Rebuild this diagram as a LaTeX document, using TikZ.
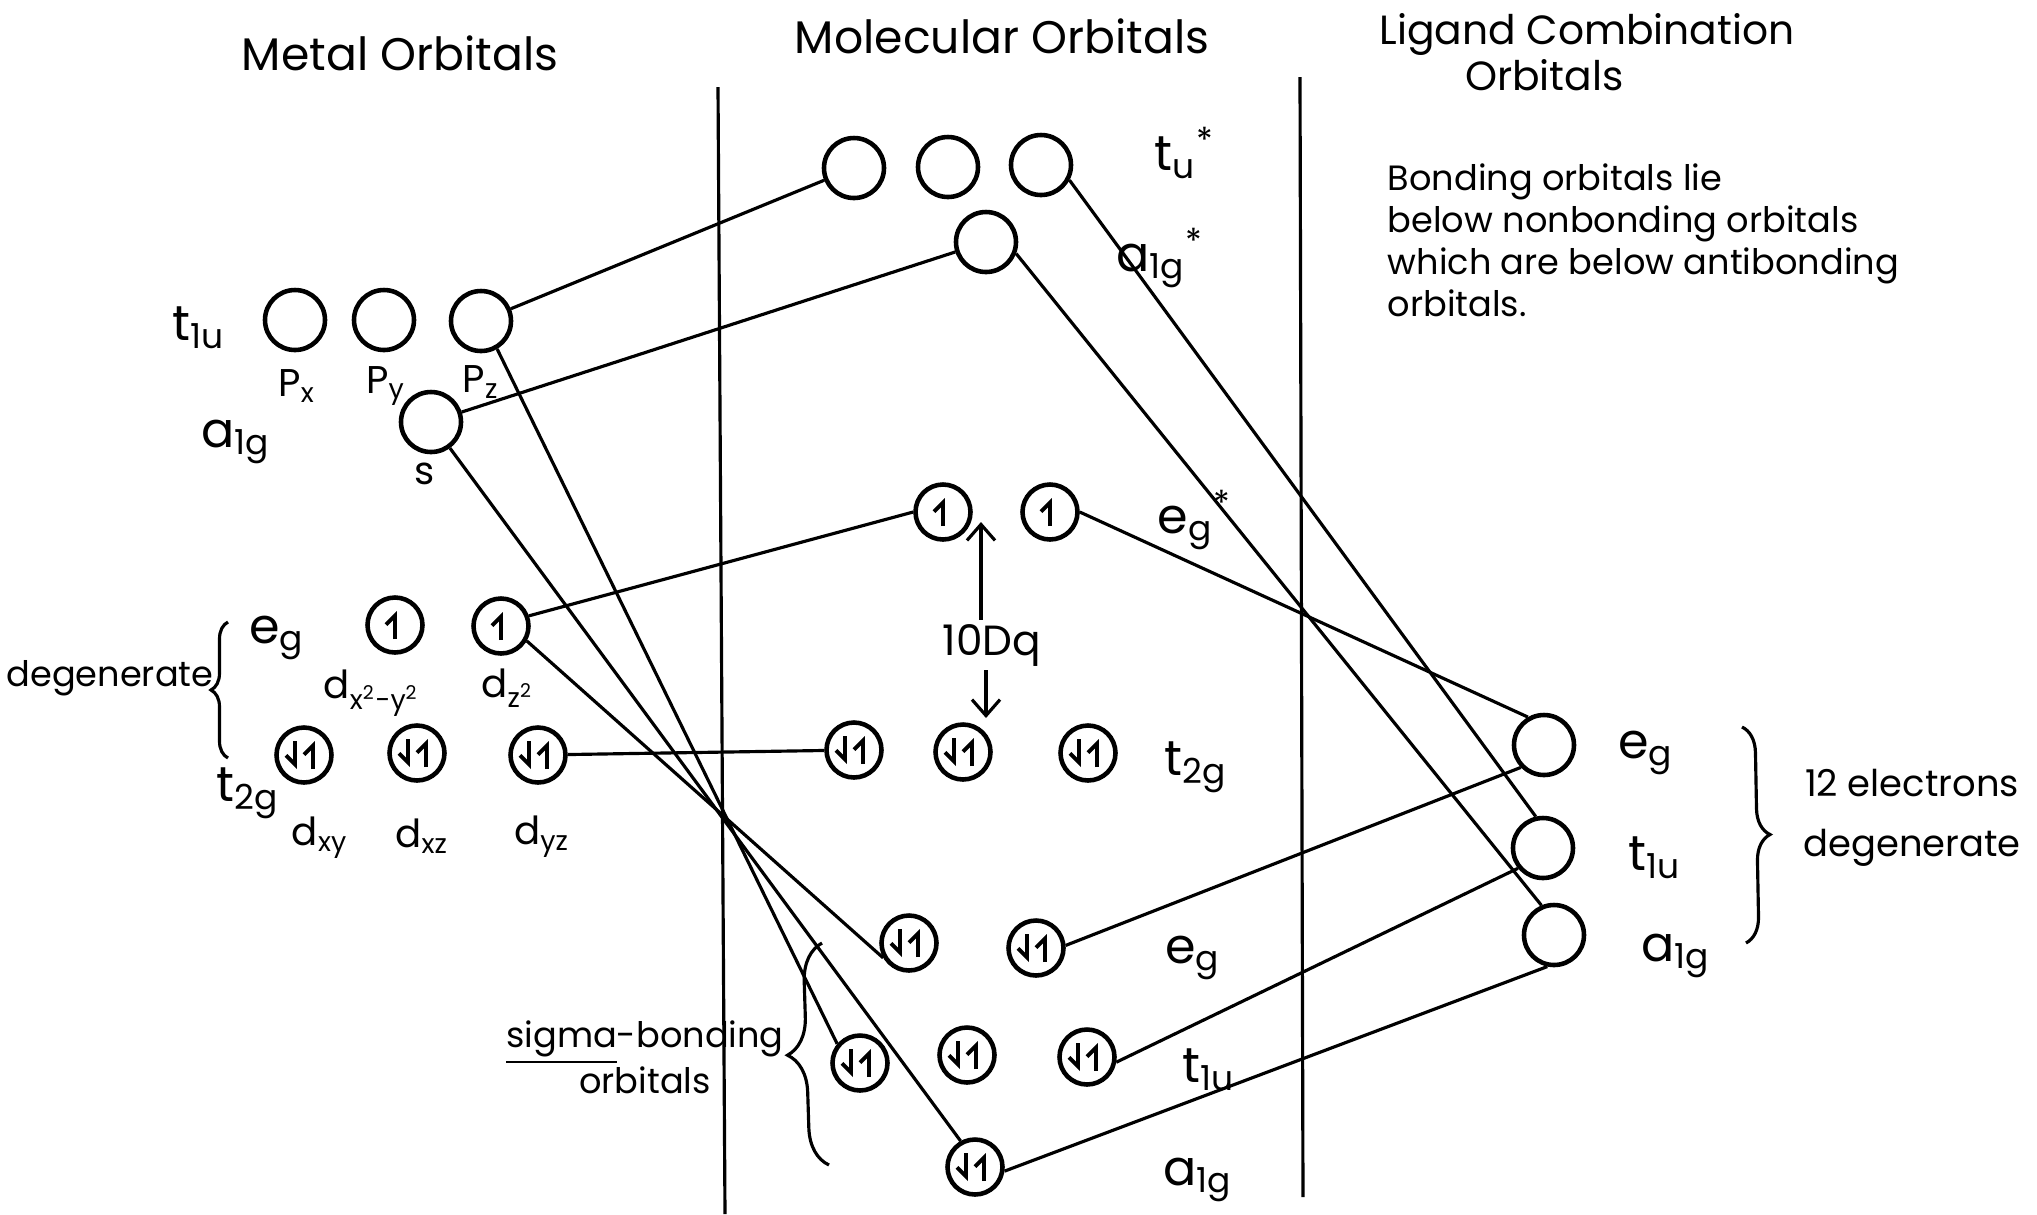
\documentclass[tikz,border=0pt]{standalone}
\usepackage{fontspec}
\setmainfont{Poppins}
\usetikzlibrary{positioning}
\usetikzlibrary{arrows.meta}
\usetikzlibrary{decorations.pathreplacing}
\newcommand{\spinx}{0.9mm}
\newcommand{\spinh}{1.4mm}
\newcommand{\irrep}[2]{#1\textsubscript{#2}}
\newcommand{\irrepstar}[2]{#1\textsubscript{#2}\textsuperscript{*}}
\tikzstyle{heading} = [font=\fontsize{13}{11}\selectfont]
\tikzstyle{orb} = [draw=black, circle, line width=1.3pt, minimum size=5.5mm, inner sep=0pt]
\tikzstyle{bigorb} = [orb, minimum size=6mm]
\tikzstyle{link} = [line width=0.9pt]
\tikzstyle{symlabel} = [font=\fontsize{14}{16}\selectfont]
\tikzstyle{aolabel} = [font=\fontsize{11}{13}\selectfont]
\tikzstyle{note} = [font=\fontsize{10}{12}\selectfont, align=left, anchor=north west, inner sep=0pt]
\tikzstyle{spinup} = [line width=1.1pt, -{Straight Barb[left, length=0.9mm, width=1.8mm]}]
\tikzstyle{spindown} = [line width=1.1pt, -{Straight Barb[right, length=0.9mm, width=1.8mm]}]
\tikzstyle{gap} = [line width=0.9pt, -{Straight Barb[length=1.6mm, width=2.8mm]}]
\tikzstyle{grouping} = [decorate, line width=0.9pt]
\newcommand{\oneup}[1]{\draw[spinup] ([yshift=-\spinh]#1.center) -- ([yshift=\spinh]#1.center);}
\newcommand{\twoel}[1]{\draw[spindown] ([xshift=-\spinx,yshift=\spinh]#1.center) -- ([xshift=-\spinx,yshift=-\spinh]#1.center);
	\draw[spinup] ([xshift=\spinx,yshift=-\spinh]#1.center) -- ([xshift=\spinx,yshift=\spinh]#1.center);}

\begin{document}
\begin{tikzpicture}[node distance=0pt]

		\useasboundingbox (0,0) rectangle (20.37,-12.14);

		\node (metal_head) [heading] at (4.00,-0.53) {Metal Orbitals};
		\node (mo_head) [heading] at (10.02,-0.36) {Molecular Orbitals};
		\node (lig_head) [heading, font=\fontsize{11.6}{10}\selectfont, align=left] at (15.87,-0.52) {Ligand Combination\\\hspace*{2.1em}Orbitals};
		\node (bond_note) [note] at (13.87,-1.63) {Bonding orbitals lie\\below nonbonding orbitals\\which are below antibonding\\orbitals.};

		\draw [link] (7.18,-0.87) -- (7.25,-12.14);
		\draw [link] (13.00,-0.77) -- (13.03,-11.97);

		\node (px) [bigorb] at (2.95,-3.20) {};
		\node (py) [bigorb] at (3.84,-3.20) {};
		\node (pz) [bigorb] at (4.81,-3.21) {};
		\node (ms) [bigorb] at (4.31,-4.22) {};
		\node (dx2) [orb] at (3.95,-6.25) {};
		\node (dz2) [orb] at (5.01,-6.26) {};
		\node (dxy) [orb] at (3.04,-7.55) {};
		\node (dxz) [orb] at (4.17,-7.53) {};
		\node (dyz) [orb] at (5.38,-7.55) {};

		\node (t1u_m) [symlabel] at (1.99,-3.28) {\irrep{t}{1u}};
		\node (a1g_m) [symlabel] at (2.36,-4.42) {\irrep{a}{1g}};
		\node (eg_m) [symlabel] at (2.77,-6.38) {\irrep{e}{g}};
		\node (t2g_m) [symlabel] at (2.48,-7.93) {\irrep{t}{2g}};
		\node (px_l) [aolabel] at (2.97,-3.86) {\irrep{P}{x}};
		\node (py_l) [aolabel] at (3.86,-3.86) {\irrep{P}{y}};
		\node (pz_l) [aolabel] at (4.81,-3.82) {\irrep{P}{z}};
		\node (s_l) [aolabel] at (4.25,-4.74) {s};
		\node (dx2_l) [aolabel] at (3.72,-6.93) {d\textsubscript{x\textsuperscript{2}-y\textsuperscript{2}}};
		\node (dz2_l) [aolabel] at (5.08,-6.88) {d\textsubscript{z\textsuperscript{2}}};
		\node (dxy_l) [aolabel] at (3.20,-8.38) {\irrep{d}{xy}};
		\node (dxz_l) [aolabel] at (4.22,-8.36) {\irrep{d}{xz}};
		\node (dyz_l) [aolabel] at (5.42,-8.37) {\irrep{d}{yz}};
		\node (degen_l) [aolabel, font=\fontsize{10}{12}\selectfont] at (1.10,-6.78) {degenerate};
		\draw [grouping, decoration={brace, amplitude=1.7mm}] (2.28,-7.58) -- (2.28,-6.22);

		\node (tus1) [bigorb] at (8.54,-1.68) {};
		\node (tus2) [bigorb] at (9.48,-1.67) {};
		\node (tus3) [bigorb] at (10.41,-1.65) {};
		\node (a1s) [bigorb] at (9.86,-2.42) {};
		\node (egs1) [orb] at (9.43,-5.12) {};
		\node (egs2) [orb] at (10.50,-5.12) {};
		\node (tg1) [orb] at (8.54,-7.50) {};
		\node (tg2) [orb] at (9.63,-7.52) {};
		\node (tg3) [orb] at (10.88,-7.53) {};
		\node (eb1) [orb] at (9.09,-9.43) {};
		\node (eb2) [orb] at (10.36,-9.48) {};
		\node (tb1) [orb] at (8.60,-10.63) {};
		\node (tb2) [orb] at (9.67,-10.55) {};
		\node (tb3) [orb] at (10.87,-10.57) {};
		\node (a1b) [orb] at (9.75,-11.67) {};

		\node (tus_l) [symlabel] at (11.85,-1.53) {\irrepstar{t}{u}};
		\node (a1s_l) [symlabel] at (11.60,-2.58) {\irrep{a}{1g}\textsuperscript{*}};
		\node (egs_l) [symlabel] at (11.95,-5.20) {\irrepstar{e}{g}};
		\node (tg_l) [symlabel] at (11.96,-7.67) {\irrep{t}{2g}};
		\node (eb_l) [symlabel] at (11.93,-9.58) {\irrep{e}{g}};
		\node (tb_l) [symlabel] at (12.09,-10.70) {\irrep{t}{1u}};
		\node (a1b_l) [symlabel] at (11.98,-11.80) {\irrep{a}{1g}};

		\node (dq) [aolabel, font=\fontsize{12}{14}\selectfont, inner sep=1pt] at (9.92,-6.45) {10Dq};
		\coordinate (gaptop) at (9.81,-5.22);
		\coordinate (gapbot) at (9.86,-7.18);
		\draw [gap] (dq.north -| gaptop) -- (gaptop);
		\draw [gap] (dq.south -| gapbot) -- (gapbot);

		\node (sigma_l) [aolabel, align=center, font=\fontsize{10}{13}\selectfont] at (6.45,-10.57) {\underline{sigma}-bonding\\orbitals};
		\draw [grouping, decoration={brace, amplitude=3.8mm}] (8.29,-11.65) -- (8.22,-9.43);

		\node (leg) [bigorb] at (15.44,-7.45) {};
		\node (lt1u) [bigorb] at (15.43,-8.48) {};
		\node (la1g) [bigorb] at (15.54,-9.35) {};
		\node (leg_l) [symlabel] at (16.46,-7.53) {\irrep{e}{g}};
		\node (lt1u_l) [symlabel] at (16.55,-8.58) {\irrep{t}{1u}};
		\node (la1g_l) [symlabel] at (16.76,-9.56) {\irrep{a}{1g}};
		\draw [grouping, decoration={brace, amplitude=2.6mm}] (17.42,-7.27) -- (17.46,-9.43);
		\node (count) [aolabel, align=center, font=\fontsize{10.5}{17}\selectfont] at (19.12,-8.18) {12 electrons\\degenerate};

		\draw [link] (pz) -- (tus1);
		\draw [link] (ms) -- (a1s);
		\draw [link] (pz.-60) -- (tb1.140);
		\draw [link] (ms.-54) -- (a1b.119);
		\draw [link] (dz2.-30) -- (eb1.210);
		\draw [link] (dz2.20) -- (egs1.west);
		\draw [link] (dyz) -- (tg1);
		\draw [link] (egs2.east) -- (leg.120);
		\draw [link] (tus3.-28) -- (lt1u.103);
		\draw [link] (a1s.-21) -- (la1g.113);
		\draw [link] (eb2.5) -- (leg.224);
		\draw [link] (tb3.-10) -- (lt1u.219);
		\draw [link] (a1b.-8) -- (la1g.258);

		\foreach \o in {dx2,dz2,egs1,egs2} {\oneup{\o}}
		\foreach \o in {dxy,dxz,dyz,tg1,tg2,tg3,eb1,eb2,tb1,tb2,tb3,a1b} {\twoel{\o}}

	\end{tikzpicture}
\end{document}
